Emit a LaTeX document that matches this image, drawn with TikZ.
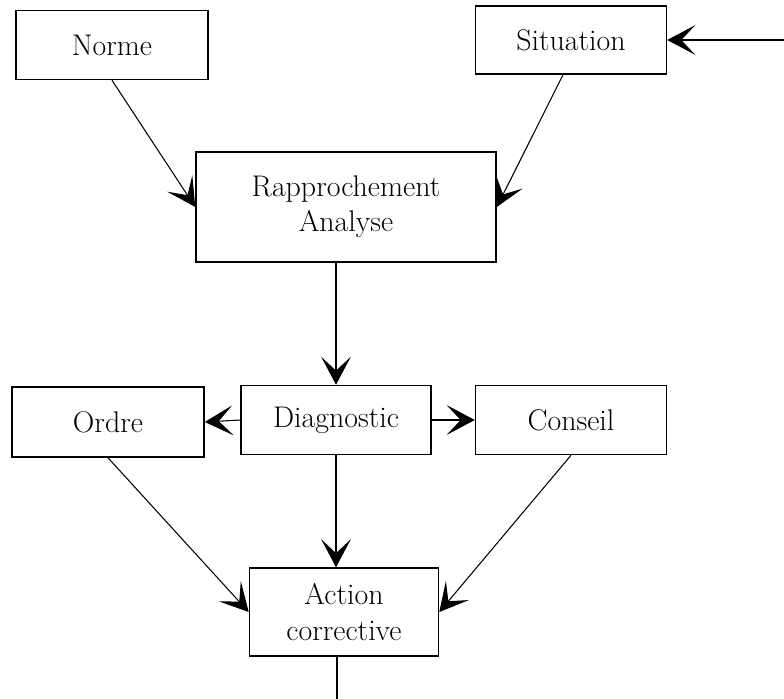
\documentclass[tikz,border=0pt]{standalone}
\usetikzlibrary{arrows.meta}

\tikzset{
  bloc/.style={draw, line width=0.9pt, align=center, inner sep=0pt, font=\fontsize{17}{20}\selectfont},
  fleche/.style={->, line width=0.6pt},
}

\begin{document}
\begin{tikzpicture}[x=0.02cm,y=-0.02cm,>={Stealth[length=16pt,width=17pt,inset=8pt]}]
        \useasboundingbox (0,0) rectangle (784,699);
        % top row
        \node[bloc,minimum width=3.84cm,minimum height=1.38cm] (norme) at (112,45) {Norme};
        \node[bloc,minimum width=3.82cm,minimum height=1.36cm] (situation) at (571,40) {Situation};
        \node[bloc,minimum width=6cm,minimum height=2.2cm] (rapp) at (346,207) {Rapprochement\\Analyse};
        % middle row
        \node[bloc,minimum width=3.84cm,minimum height=1.4cm] (ordre) at (108,422) {Ordre};
        \node[bloc,minimum width=3.8cm,minimum height=1.38cm] (diag) at (336,420) {Diagnostic};
        \node[bloc,minimum width=3.82cm,minimum height=1.38cm] (conseil) at (571,420) {Conseil};
        \node[bloc,minimum width=3.78cm,minimum height=1.76cm] (action) at (344,612) {Action\\corrective};

        \coordinate (entree) at (784,40);
        \coordinate (sortie) at (337,699);

        \path[fleche] (entree) edge (situation.east);
        \path[fleche] (norme.south) edge (rapp.west);
        \path[fleche] ([xshift=-0.16cm]situation.south) edge (rapp.east);
        \path[fleche] (diag.north |- rapp.south) edge (diag.north);
        \path[fleche] (diag.west) edge (ordre.east);
        \path[fleche] (diag.east) edge (conseil.west);
        \path[fleche] (diag.south) edge (diag.south |- action.north);
        \path[fleche] (ordre.south) edge (action.west);
        \path[fleche] (conseil.south) edge (action.east);
        \path[line width=0.6pt] (sortie |- action.south) edge (sortie);
      \end{tikzpicture}
\end{document}
